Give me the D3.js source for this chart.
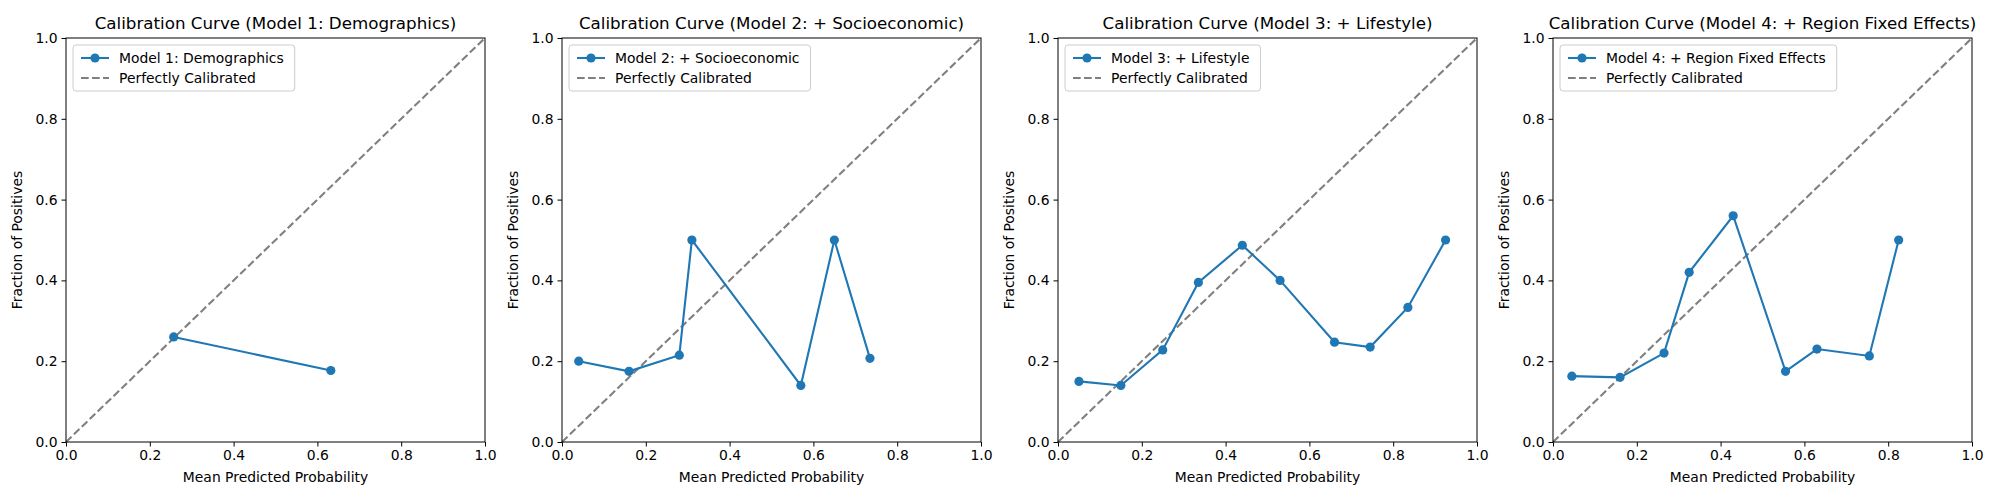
<!DOCTYPE html>
<html><head><meta charset="utf-8">
<script src="https://cdn.jsdelivr.net/npm/d3@7"></script>
<style>body{margin:0;background:#fff;font-family:"DejaVu Sans",sans-serif;}</style>
</head><body>
<svg id="chart" width="2000" height="500"></svg>
<script>
var modelNames = ["Model 1: Demographics", "Model 2: + Socioeconomic", "Model 3: + Lifestyle", "Model 4: + Region Fixed Effects"];
var m1x = [0.257, 0.632], m1y = [0.260, 0.177];
var m2x = [0.040, 0.160, 0.280, 0.310, 0.570, 0.650, 0.735];
var m2y = [0.200, 0.175, 0.215, 0.500, 0.140, 0.500, 0.207];
var m3x = [0.050, 0.150, 0.250, 0.335, 0.440, 0.530, 0.660, 0.745, 0.835, 0.925];
var m3y = [0.150, 0.140, 0.228, 0.395, 0.487, 0.400, 0.247, 0.235, 0.333, 0.500];
var m4x = [0.045, 0.160, 0.265, 0.325, 0.430, 0.555, 0.630, 0.755, 0.825];
var m4y = [0.163, 0.160, 0.220, 0.420, 0.560, 0.175, 0.230, 0.213, 0.500];
var ticks = [0, 0.2, 0.4, 0.6, 0.8, 1.0];

var series = [[m1x, m1y], [m2x, m2y], [m3x, m3y], [m4x, m4y]];
var svg = d3.select("#chart");
var lefts = [66, 562, 1058, 1553], W = 419, topY = 38, H = 404;

series.forEach(function (s, i) {
    var pts = s[0].map(function (x, j) { return [x, s[1][j]]; });
    var g = svg.append("g").attr("transform", "translate(" + lefts[i] + "," + topY + ")");
    var x = d3.scaleLinear().domain([0, 1]).range([0, W]);
    var y = d3.scaleLinear().domain([0, 1]).range([H, 0]);

    var xa = g.append("g").attr("transform", "translate(0," + H + ")")
        .call(d3.axisBottom(x).tickValues(ticks).tickFormat(d3.format(".1f")).tickSizeOuter(0).tickSize(4.5).tickPadding(4));
    var ya = g.append("g")
        .call(d3.axisLeft(y).tickValues(ticks).tickFormat(d3.format(".1f")).tickSizeOuter(0).tickSize(4.5).tickPadding(4));
    [xa, ya].forEach(function (a) {
        a.selectAll("text").attr("font-size", 13.9).attr("font-family", "DejaVu Sans").attr("fill", "#000");
        a.select(".domain").remove();
        a.selectAll("line").attr("stroke", "#000").attr("stroke-width", 1);
    });

    g.append("line").attr("x1", x(0)).attr("y1", y(0)).attr("x2", x(1)).attr("y2", y(1))
        .attr("stroke", "gray").attr("stroke-width", 2.1).attr("stroke-dasharray", "7.7,3.3");

    g.append("path").datum(pts).attr("fill", "none").attr("stroke", "#1f77b4").attr("stroke-width", 2.1)
        .attr("d", d3.line().x(function (d) { return x(d[0]); }).y(function (d) { return y(d[1]); }));
    g.selectAll("circle.pt").data(pts).enter().append("circle")
        .attr("cx", function (d) { return x(d[0]); }).attr("cy", function (d) { return y(d[1]); })
        .attr("r", 4.6).attr("fill", "#1f77b4");

    g.append("rect").attr("width", W).attr("height", H).attr("fill", "none").attr("stroke", "#000").attr("stroke-width", 1);

    g.append("text").attr("x", W / 2).attr("y", -9).attr("text-anchor", "middle")
        .attr("font-size", 16.7).text("Calibration Curve (" + modelNames[i] + ")");
    g.append("text").attr("x", W / 2).attr("y", H + 40).attr("text-anchor", "middle")
        .attr("font-size", 13.9).text("Mean Predicted Probability");
    g.append("text").attr("transform", "translate(-44," + H / 2 + ") rotate(-90)").attr("text-anchor", "middle")
        .attr("font-size", 13.9).text("Fraction of Positives");

    // legend
    var labels = [modelNames[i], "Perfectly Calibrated"];
    var lg = g.append("g").attr("transform", "translate(7,7)");
    var tmp = lg.append("text").attr("font-size", 13.9).text(labels[0]);
    var lw = Math.max(tmp.node().getComputedTextLength(), 130);
    tmp.remove();
    lg.append("rect").attr("width", lw + 57).attr("height", 46).attr("rx", 3)
        .attr("fill", "#fff").attr("fill-opacity", 0.8).attr("stroke", "#ccc");
    labels.forEach(function (t, k) {
        var yy = 13 + k * 20;
        var l = lg.append("line").attr("x1", 8).attr("x2", 36).attr("y1", yy).attr("y2", yy).attr("stroke-width", 2.1);
        if (k === 0) {
            l.attr("stroke", "#1f77b4");
            lg.append("circle").attr("cx", 22).attr("cy", yy).attr("r", 4.6).attr("fill", "#1f77b4");
        } else {
            l.attr("stroke", "gray").attr("stroke-dasharray", "7.7,3.3");
        }
        lg.append("text").attr("x", 46).attr("y", yy + 5).attr("font-size", 13.9).text(t);
    });
});
</script>
</body></html>
